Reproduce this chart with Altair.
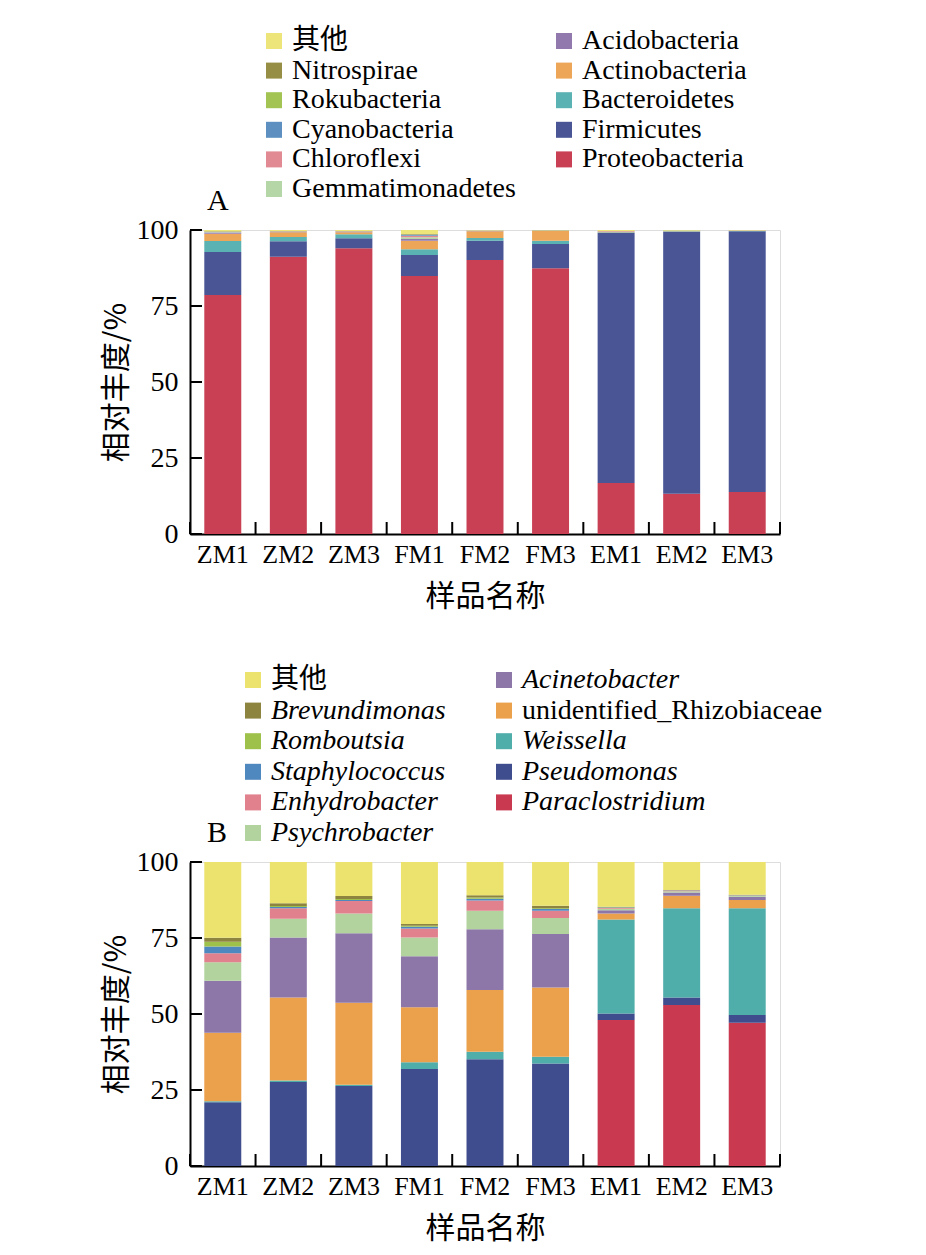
import altair as alt
import pandas as pd

samples = ["ZM1", "ZM2", "ZM3", "FM1", "FM2", "FM3", "EM1", "EM2", "EM3"]

# ---------- Panel A (phylum level), stacking order bottom -> top ----------
phyla = ["Proteobacteria", "Firmicutes", "Bacteroidetes", "Actinobacteria",
         "Acidobacteria", "Gemmatimonadetes", "Chloroflexi", "Cyanobacteria",
         "Rokubacteria", "Nitrospirae", "其他"]
phyla_colors = ["#C94055", "#4A5595", "#5BB2B2", "#EDA657", "#9179AE", "#B5D6A6",
                "#E28A93", "#5D90C0", "#A3C452", "#978E45", "#EDE57A"]
proteobacteria = [78.6, 91.2, 94.0, 84.9, 90.1, 87.4, 16.8, 13.2, 13.8]
firmicutes = [14.2, 5.1, 3.3, 6.9, 6.4, 8.0, 82.3, 86.2, 85.8]
bacteroidetes = [3.6, 1.4, 1.3, 1.9, 0.9, 1.1, 0.2, 0.15, 0.1]
actinobacteria = [2.4, 1.6, 0.7, 2.8, 2.2, 3.2, 0.2, 0.1, 0.05]
acidobacteria = [0.2, 0.1, 0.1, 0.5, 0.05, 0.05, 0.05, 0.05, 0.05]
gemmatimonadetes = [0.2, 0.1, 0.1, 0.6, 0.05, 0.05, 0.05, 0.05, 0.0]
chloroflexi = [0.1, 0.05, 0.05, 0.5, 0.05, 0.05, 0.05, 0.0, 0.0]
cyanobacteria = [0.05, 0.05, 0.05, 0.3, 0.05, 0.0, 0.0, 0.0, 0.0]
rokubacteria = [0.05, 0.0, 0.0, 0.1, 0.0, 0.0, 0.0, 0.0, 0.0]
nitrospirae = [0.2, 0.1, 0.1, 0.2, 0.05, 0.05, 0.05, 0.05, 0.0]
other_a = [0.4, 0.3, 0.3, 1.3, 0.15, 0.1, 0.3, 0.2, 0.2]
series_a = [proteobacteria, firmicutes, bacteroidetes, actinobacteria, acidobacteria,
            gemmatimonadetes, chloroflexi, cyanobacteria, rokubacteria, nitrospirae, other_a]

# ---------- Panel B (genus level), stacking order bottom -> top ----------
genera = ["Paraclostridium", "Pseudomonas", "Weissella", "unidentified_Rhizobiaceae",
          "Acinetobacter", "Psychrobacter", "Enhydrobacter", "Staphylococcus",
          "Romboutsia", "Brevundimonas", "其他"]
genera_colors = ["#C93A50", "#3F4C8E", "#4FADAA", "#EBA04C", "#8D76A8", "#B2D39E",
                 "#E0818D", "#4F88BE", "#9DC14A", "#8C843F", "#ECE36E"]
paraclostridium = [0.0, 0.0, 0.0, 0.0, 0.0, 0.0, 48.0, 53.0, 47.1]
pseudomonas = [21.0, 27.6, 26.3, 31.9, 35.1, 33.7, 2.2, 2.4, 2.6]
weissella = [0.3, 0.5, 0.4, 2.2, 2.5, 2.2, 30.9, 29.4, 35.1]
rhizobiaceae = [22.5, 27.3, 27.0, 18.1, 20.3, 22.8, 2.0, 4.1, 2.7]
acinetobacter = [17.1, 19.8, 22.9, 16.8, 20.0, 17.6, 1.0, 1.1, 1.1]
psychrobacter = [6.1, 6.1, 6.5, 6.2, 6.1, 5.3, 0.5, 0.4, 0.3]
enhydrobacter = [3.0, 3.5, 4.1, 2.9, 3.3, 2.4, 0.3, 0.2, 0.1]
staphylococcus = [2.2, 0.4, 0.3, 0.6, 0.6, 0.5, 0.1, 0.1, 0.05]
romboutsia = [1.6, 0.3, 0.3, 0.3, 0.4, 0.3, 0.1, 0.0, 0.05]
brevundimonas = [1.3, 0.9, 1.0, 0.6, 0.8, 0.8, 0.2, 0.1, 0.1]
other_b = [24.9, 13.6, 11.2, 20.4, 10.9, 14.4, 14.7, 9.2, 10.8]
series_b = [paraclostridium, pseudomonas, weissella, rhizobiaceae, acinetobacter,
            psychrobacter, enhydrobacter, staphylococcus, romboutsia, brevundimonas, other_b]

y_ticks = [0, 25, 50, 75, 100]
upright_b = ["其他", "unidentified_Rhizobiaceae"]

SERIF = "Liberation Serif, Noto Sans CJK SC"
CJK = "Noto Sans CJK SC"
W, H = 590, 304
P_IN, P_OUT = 0.436, 0.218
HALF_GAP = P_IN / 2 * W / len(samples)   # pixel distance from bar edge to band boundary

X_AXIS = alt.Axis(orient="bottom", title="样品名称", titleFont=CJK,
                  titleFontSize=30, titleFontWeight="normal",
                  titleColor="black", titlePadding=14,
                  labelFont=SERIF, labelFontSize=26, labelColor="black",
                  labelAngle=0, labelPadding=7, ticks=False, tickSize=0,
                  domainColor="black", domainWidth=2, grid=False)
Y_AXIS = alt.Axis(orient="left", values=y_ticks, title="相对丰度/%",
                  titleFont=CJK, titleFontSize=30, titleFontWeight="normal",
                  titleColor="black", titlePadding=5,
                  labelFont=SERIF, labelFontSize=28, labelColor="black",
                  labelPadding=12, ticks=False, tickSize=0,
                  domainColor="black", domainWidth=2, grid=False)


def panel(cats, series, colors, letter, legend_x, legend_y, row_pad, col_pad, italic):
    rows = []
    for rank, (name, vals) in enumerate(zip(cats, series)):
        for s, v in zip(samples, vals):
            rows.append({"sample": s, "taxon": name, "value": v, "rank": rank})
    df = pd.DataFrame(rows)

    order = list(reversed(cats))          # legend: top of the stack first
    cmap = dict(zip(cats, colors))
    rng = [cmap[c] for c in order]

    if italic:
        cond = " || ".join([f"datum.label == '{u}'" for u in upright_b])
        fstyle = alt.ExprRef(f"({cond}) ? 'normal' : 'italic'")
    else:
        fstyle = "normal"

    xscale = alt.Scale(paddingInner=P_IN, paddingOuter=P_OUT)
    yscale = alt.Scale(domain=[0, 100], nice=False)

    bars = alt.Chart(df).mark_bar().encode(
        x=alt.X("sample:N", sort=samples, scale=xscale, axis=X_AXIS),
        y=alt.Y("value:Q", stack="zero", scale=yscale, axis=Y_AXIS),
        color=alt.Color("taxon:N", scale=alt.Scale(domain=order, range=rng),
                        legend=alt.Legend(orient="none", legendX=legend_x, legendY=legend_y,
                                          columns=2, title=None, symbolType="square",
                                          symbolSize=256, symbolStrokeWidth=0,
                                          symbolOpacity=1,
                                          labelFont=SERIF, labelFontSize=28,
                                          labelFontStyle=fstyle,
                                          labelColor="black", labelOffset=4,
                                          labelLimit=600, rowPadding=row_pad,
                                          columnPadding=col_pad, padding=0)),
        order=alt.Order("rank:Q", sort="ascending"),
    )

    # inward ticks on the x axis, at the boundaries between bars
    xt = pd.DataFrame({"sample": samples})
    xticks = alt.Chart(xt).mark_rule(color="black", strokeWidth=2, xOffset=-HALF_GAP).encode(
        x=alt.X("sample:N", sort=samples, scale=xscale, bandPosition=0, axis=X_AXIS),
        y=alt.value(H - 12), y2=alt.value(H))
    xend = alt.Chart(xt.tail(1)).mark_rule(color="black", strokeWidth=2, xOffset=HALF_GAP).encode(
        x=alt.X("sample:N", sort=samples, scale=xscale, bandPosition=1, axis=X_AXIS),
        y=alt.value(H - 12), y2=alt.value(H))

    # inward ticks on the y axis
    yt = pd.DataFrame({"v": y_ticks})
    yticks = alt.Chart(yt).mark_rule(color="black", strokeWidth=2).encode(
        y=alt.Y("v:Q", scale=yscale, axis=Y_AXIS),
        x=alt.value(0), x2=alt.value(12))

    lab = alt.Chart(pd.DataFrame({"t": [letter]})).mark_text(
        font="Liberation Serif", fontSize=30, align="left", baseline="alphabetic",
        color="black").encode(text="t:N", x=alt.value(17), y=alt.value(-20))

    return alt.layer(bars, xticks, xend, yticks, lab).properties(width=W, height=H)


chart_a = panel(phyla, series_a, phyla_colors, "A", 70, -203, 1.6, 34, False)
chart_b = panel(genera, series_b, genera_colors, "B", 49, -196, 2.6, 44, True)

chart = alt.vconcat(chart_a, chart_b, spacing=53).resolve_scale(color="independent") \
    .properties(padding={"left": 92, "top": 18, "right": 5, "bottom": 5}) \
    .configure_view(stroke=None).configure(background="white")

chart.save("out.html", embed_options={"renderer": "svg", "actions": False})
